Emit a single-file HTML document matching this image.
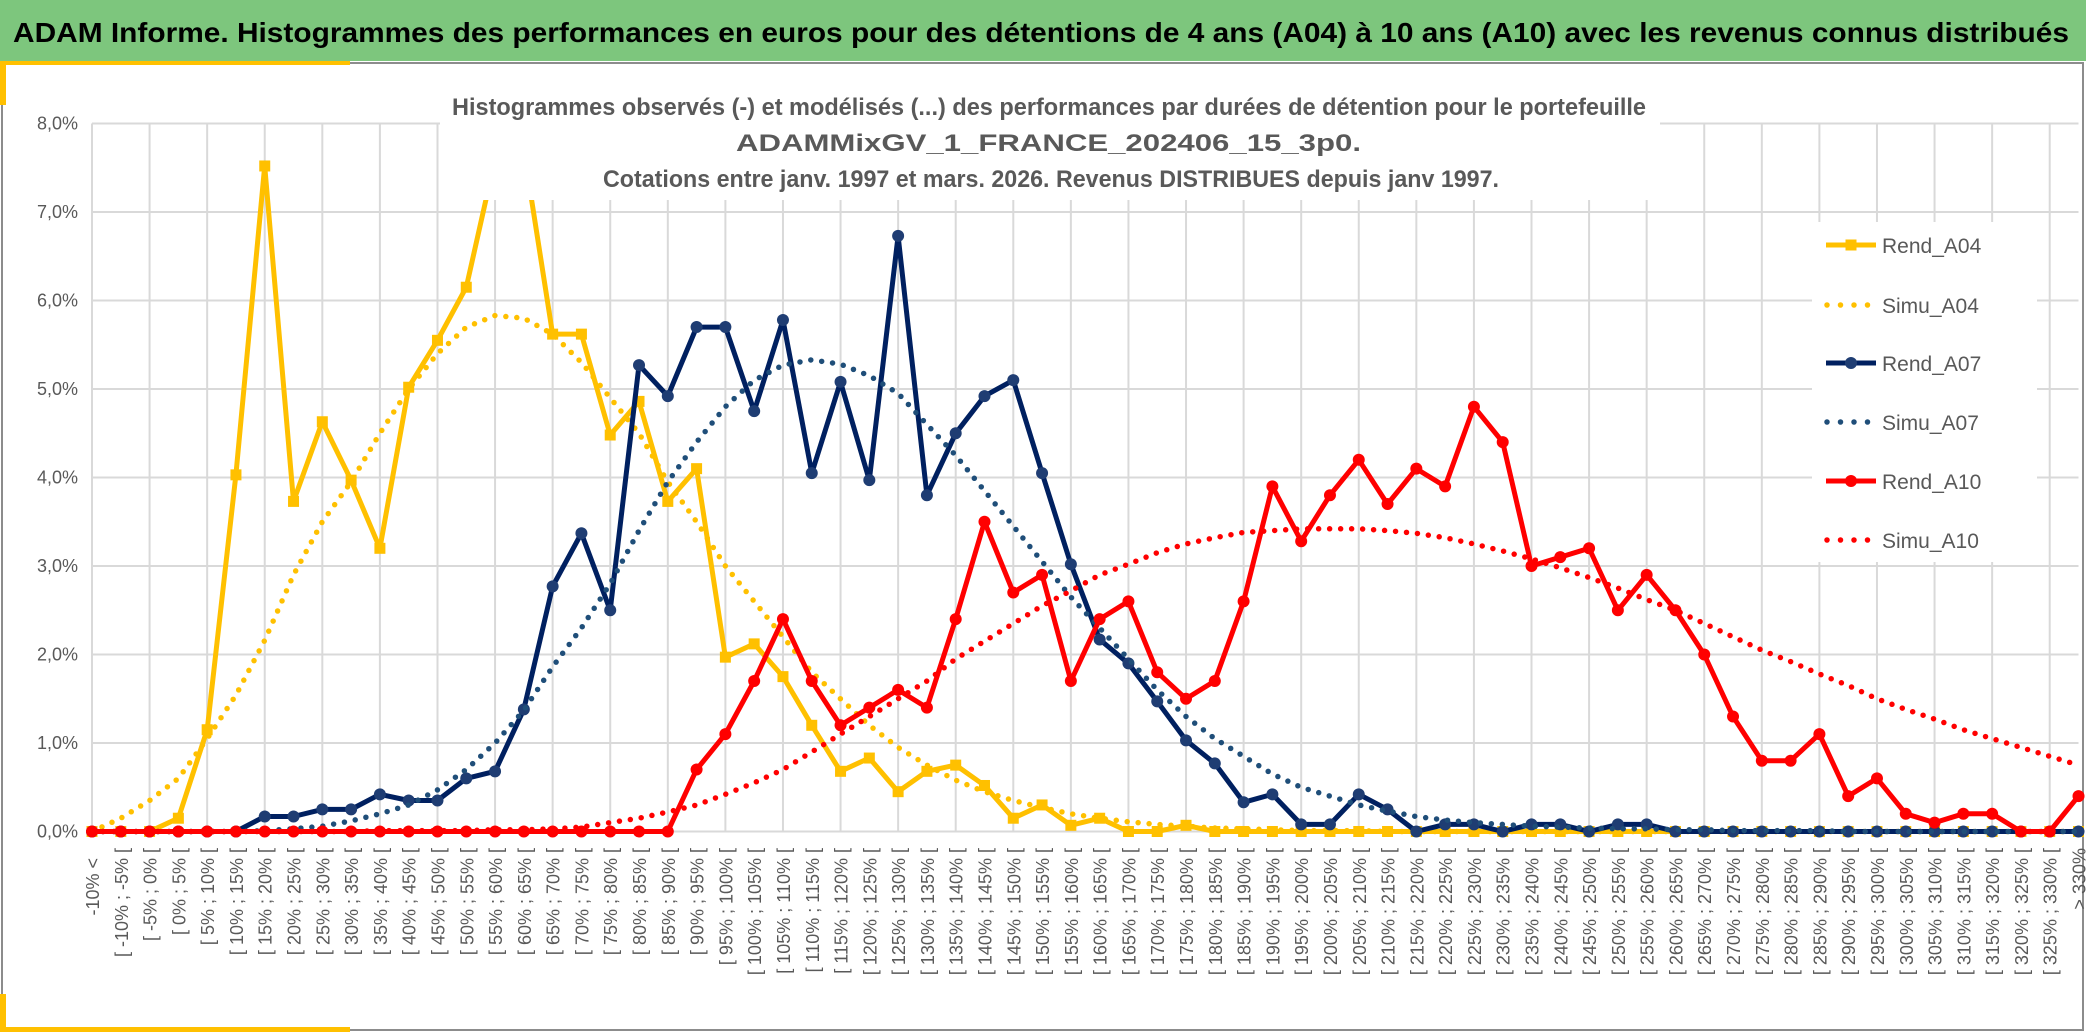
<!DOCTYPE html>
<html><head><meta charset="utf-8"><style>
html,body{margin:0;padding:0;background:#fff;}
svg{display:block;font-family:"Liberation Sans",sans-serif;}
</style></head><body>
<svg id="chart" width="2086" height="1034" viewBox="0 0 2086 1034" xmlns="http://www.w3.org/2000/svg">
<rect x="0" y="0" width="2086" height="61" fill="#7DC67D"/>
<text x="13" y="42" font-size="28" font-weight="bold" fill="#000" textLength="2056" lengthAdjust="spacingAndGlyphs">ADAM Informe. Histogrammes des performances en euros pour des détentions de 4 ans (A04) à 10 ans (A10) avec les revenus connus distribués</text>
<rect x="2" y="63" width="2081" height="967" fill="#fff" stroke="#8c8c8c" stroke-width="2"/>
<rect x="0" y="61" width="350" height="4" fill="#FFC000"/>
<rect x="0" y="61" width="6" height="44" fill="#FFC000"/>
<rect x="0" y="1027" width="350" height="5" fill="#FFC000"/>
<rect x="0" y="994" width="6" height="38" fill="#FFC000"/>
<g id="grid"></g>
<g id="series"></g>
<g>
<rect x="440" y="84" width="1220" height="116" fill="#fff"/>
<text x="452" y="115" font-size="24" font-weight="bold" fill="#595959" textLength="1194" lengthAdjust="spacingAndGlyphs">Histogrammes observés (-) et modélisés (...) des performances par durées de détention pour le portefeuille</text>
<text x="736" y="151" font-size="24" font-weight="bold" fill="#595959" textLength="625" lengthAdjust="spacingAndGlyphs">ADAMMixGV_1_FRANCE_202406_15_3p0.</text>
<text x="603" y="187" font-size="24" font-weight="bold" fill="#595959" textLength="896" lengthAdjust="spacingAndGlyphs">Cotations entre janv. 1997 et mars. 2026. Revenus DISTRIBUES depuis janv 1997.</text>
</g>
<g id="legend"></g>
</svg>
<script>
const categories = ["-10% <","[ -10% ; -5% [","[ -5% ; 0% [","[ 0% ; 5% [","[ 5% ; 10% [","[ 10% ; 15% [","[ 15% ; 20% [","[ 20% ; 25% [","[ 25% ; 30% [","[ 30% ; 35% [","[ 35% ; 40% [","[ 40% ; 45% [","[ 45% ; 50% [","[ 50% ; 55% [","[ 55% ; 60% [","[ 60% ; 65% [","[ 65% ; 70% [","[ 70% ; 75% [","[ 75% ; 80% [","[ 80% ; 85% [","[ 85% ; 90% [","[ 90% ; 95% [","[ 95% ; 100% [","[ 100% ; 105% [","[ 105% ; 110% [","[ 110% ; 115% [","[ 115% ; 120% [","[ 120% ; 125% [","[ 125% ; 130% [","[ 130% ; 135% [","[ 135% ; 140% [","[ 140% ; 145% [","[ 145% ; 150% [","[ 150% ; 155% [","[ 155% ; 160% [","[ 160% ; 165% [","[ 165% ; 170% [","[ 170% ; 175% [","[ 175% ; 180% [","[ 180% ; 185% [","[ 185% ; 190% [","[ 190% ; 195% [","[ 195% ; 200% [","[ 200% ; 205% [","[ 205% ; 210% [","[ 210% ; 215% [","[ 215% ; 220% [","[ 220% ; 225% [","[ 225% ; 230% [","[ 230% ; 235% [","[ 235% ; 240% [","[ 240% ; 245% [","[ 245% ; 250% [","[ 250% ; 255% [","[ 255% ; 260% [","[ 260% ; 265% [","[ 265% ; 270% [","[ 270% ; 275% [","[ 275% ; 280% [","[ 280% ; 285% [","[ 285% ; 290% [","[ 290% ; 295% [","[ 295% ; 300% [","[ 300% ; 305% [","[ 305% ; 310% [","[ 310% ; 315% [","[ 315% ; 320% [","[ 320% ; 325% [","[ 325% ; 330% [","> 330%"];
const yTicks = [0,1,2,3,4,5,6,7,8];
const yTickLabels = ["0,0%","1,0%","2,0%","3,0%","4,0%","5,0%","6,0%","7,0%","8,0%"];
const rendA04 = [0,0,0,0.15,1.15,4.03,7.52,3.73,4.63,3.97,3.2,5.02,5.55,6.15,7.6,7.7,5.62,5.62,4.48,4.86,3.73,4.1,1.97,2.12,1.75,1.2,0.68,0.83,0.45,0.68,0.75,0.52,0.15,0.3,0.07,0.15,0,0,0.07,0,0,0,0,0,0,0,0,0,0,0,0,0,0,0,0,0,0,0,0,0,0,0,0,0,0,0,0,0,0,0];
const simuA04 = [0,0.15,0.35,0.6,1.05,1.54,2.16,2.9,3.5,3.95,4.5,5.0,5.4,5.7,5.83,5.8,5.62,5.3,4.9,4.5,3.95,3.5,3.0,2.6,2.2,1.8,1.5,1.2,0.95,0.75,0.58,0.45,0.35,0.27,0.2,0.15,0.11,0.08,0.06,0.04,0.03,0.02,0.01,0.01,0.01,0,0,0,0,0,0,0,0,0,0,0,0,0,0,0,0,0,0,0,0,0,0,0,0,0];
const rendA07 = [0,0,0,0,0,0,0.17,0.17,0.25,0.25,0.42,0.35,0.35,0.6,0.68,1.38,2.77,3.37,2.5,5.27,4.92,5.7,5.7,4.75,5.78,4.05,5.08,3.97,6.73,3.8,4.5,4.92,5.1,4.05,3.02,2.17,1.9,1.47,1.03,0.77,0.33,0.42,0.08,0.08,0.42,0.25,0,0.08,0.08,0,0.08,0.08,0,0.08,0.08,0,0,0,0,0,0,0,0,0,0,0,0,0,0,0];
const simuA07 = [0,0,0,0,0,0,0.01,0.03,0.06,0.12,0.2,0.3,0.47,0.7,1.0,1.37,1.86,2.3,2.8,3.4,3.95,4.4,4.8,5.1,5.27,5.33,5.28,5.15,4.95,4.6,4.25,3.85,3.45,3.05,2.65,2.3,1.95,1.6,1.3,1.05,0.85,0.65,0.5,0.4,0.3,0.23,0.17,0.13,0.1,0.08,0.06,0.05,0.04,0.03,0.03,0.02,0.02,0.01,0.01,0.01,0.01,0,0,0,0,0,0,0,0,0];
const rendA10 = [0,0,0,0,0,0,0,0,0,0,0,0,0,0,0,0,0,0,0,0,0,0.7,1.1,1.7,2.4,1.7,1.2,1.4,1.6,1.4,2.4,3.5,2.7,2.9,1.7,2.4,2.6,1.8,1.5,1.7,2.6,3.9,3.28,3.8,4.2,3.7,4.1,3.9,4.8,4.4,3.0,3.1,3.2,2.5,2.9,2.5,2.0,1.3,0.8,0.8,1.1,0.4,0.6,0.2,0.1,0.2,0.2,0,0,0.4];
const simuA10 = [0,0,0,0,0,0,0,0,0,0,0.01,0.01,0.01,0.01,0.02,0.02,0.03,0.05,0.1,0.15,0.22,0.3,0.42,0.55,0.7,0.9,1.1,1.3,1.5,1.7,1.95,2.15,2.35,2.55,2.72,2.9,3.02,3.15,3.25,3.32,3.38,3.4,3.42,3.42,3.42,3.4,3.37,3.32,3.25,3.17,3.08,2.98,2.87,2.75,2.62,2.5,2.35,2.2,2.05,1.92,1.78,1.65,1.5,1.38,1.27,1.15,1.05,0.95,0.85,0.75];
const seriesNames = ["Rend_A04","Simu_A04","Rend_A07","Simu_A07","Rend_A10","Simu_A10"];

const NS = "http://www.w3.org/2000/svg";
const X0 = 92, DX = 28.79, Y0 = 831.5, DY = 88.5;
function xPos(i){ return X0 + i*DX; }
function yPos(v){ return Y0 - v*DY; }
function mk(tag, attrs, parent){
  const e = document.createElementNS(NS, tag);
  for (const k in attrs) e.setAttribute(k, attrs[k]);
  parent.appendChild(e); return e;
}
const grid = document.getElementById('grid');
const xEnd = xPos(categories.length-1);
yTicks.forEach((t,k)=>{
  const l = mk('line',{x1:xPos(0),x2:xEnd,y1:yPos(t),y2:yPos(t),stroke:'#D9D9D9','stroke-width':2},grid);
  
  
  const tx = mk('text',{x:78,y:yPos(t)+6,'font-size':18,fill:'#595959','text-anchor':'end'},grid);
  tx.textContent = yTickLabels[k];
  
  
});
categories.forEach((c,i)=>{
  if (i%2===0){
    const l = mk('line',{x1:xPos(i),x2:xPos(i),y1:yPos(8),y2:Y0,stroke:'#D9D9D9','stroke-width':2},grid);
    
    
  }
  const tx = mk('text',{x:0,y:0,'font-size':18,fill:'#595959','text-anchor':'end',transform:`translate(${xPos(i)+7},${i===0?858:848}) rotate(-90)`},grid);
  tx.textContent = c;
  
  
});
const series = document.getElementById('series');
function path(vals){ return vals.map((v,i)=>(i?'L':'M')+xPos(i).toFixed(1)+' '+yPos(v).toFixed(1)).join(' '); }
function drawSolid(vals,color,marker,name){
  const g = mk('g',{},series);
  
  
  mk('path',{d:path(vals),fill:'none',stroke:color,'stroke-width':5,'stroke-linejoin':'round'},g);
  vals.forEach((v,i)=>{
    let m;
    if (marker==='square') m = mk('rect',{x:xPos(i)-5.5,y:yPos(v)-5.5,width:11,height:11,fill:color},g);
    else m = mk('circle',{cx:xPos(i),cy:yPos(v),r:6,fill:marker},g);
    
    
  });
}
function drawDotted(vals,color,name){
  const p = mk('path',{d:path(vals),fill:'none',stroke:color,'stroke-width':5.5,'stroke-linecap':'round','stroke-dasharray':'0 11'},series);
  
  
}
drawSolid(rendA04,'#FFC000','square','rend-a04-line');
drawDotted(simuA04,'#FFC000','simu-a04-line');
drawSolid(rendA07,'#002060','#1F3D73','rend-a07-line');
drawDotted(simuA07,'#1F4E79','simu-a07-line');
drawSolid(rendA10,'#FF0000','#FF0000','rend-a10-line');
drawDotted(simuA10,'#FF0000','simu-a10-line');

const legend = document.getElementById('legend');
mk('rect',{x:1812,y:222,width:225,height:340,fill:'#fff'},legend);
const legColors = ['#FFC000','#FFC000','#002060','#1F4E79','#FF0000','#FF0000'];
const legY = [245,305,363,422,481,540];
seriesNames.forEach((n,k)=>{
  const g = mk('g',{},legend);
  
  
  const y = legY[k];
  if (k%2===0){
    mk('line',{x1:1826,x2:1876,y1:y,y2:y,stroke:legColors[k],'stroke-width':5},g);
    if (k===0) mk('rect',{x:1845.5,y:y-5.5,width:11,height:11,fill:legColors[k]},g);
    else mk('circle',{cx:1851,cy:y,r:6,fill:k===2?'#1F3D73':legColors[k]},g);
  } else {
    mk('line',{x1:1827,x2:1868,y1:y,y2:y,stroke:legColors[k],'stroke-width':5.5,'stroke-linecap':'round','stroke-dasharray':'0 13.5'},g);
  }
  const t = mk('text',{x:1882,y:y+8,'font-size':21,fill:'#595959'},g);
  t.textContent = n;
});
</script>
</body></html>
